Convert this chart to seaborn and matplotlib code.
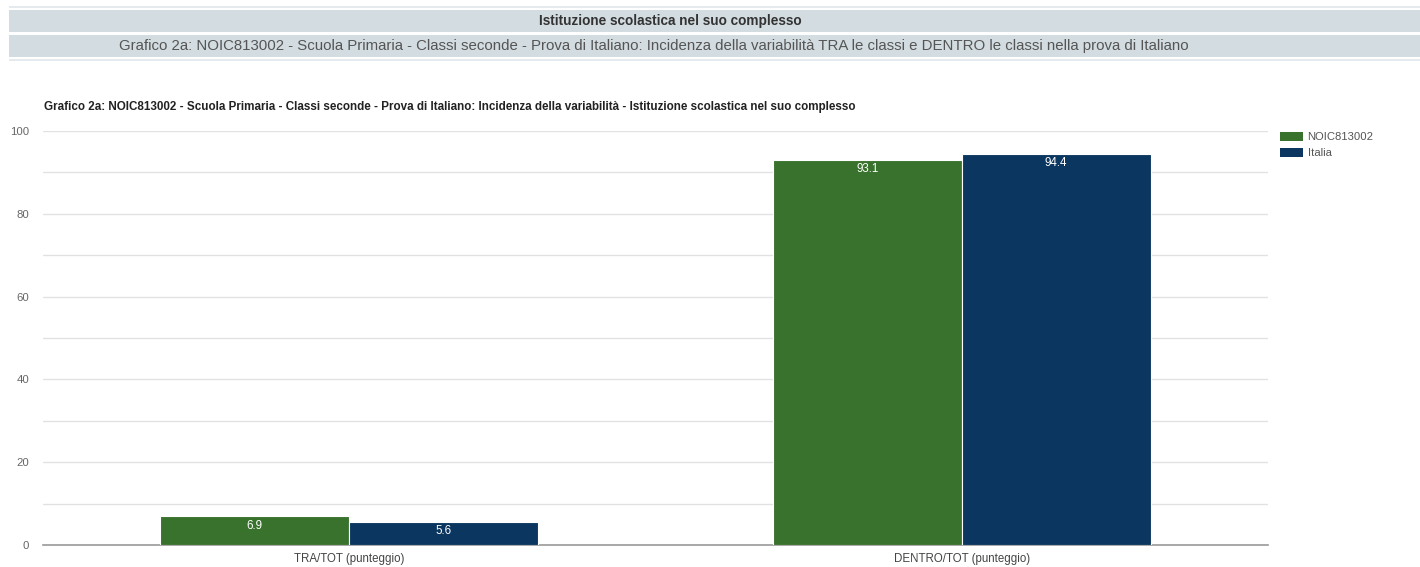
import matplotlib
matplotlib.use("Agg")
import matplotlib.pyplot as plt
import seaborn as sns
import pandas as pd
from matplotlib.patches import Rectangle, Patch

categories = ["TRA/TOT (punteggio)", "DENTRO/TOT (punteggio)"]
series_names = ["NOIC813002", "Italia"]
school_values = [6.9, 93.1]
italy_values = [5.6, 94.4]
value_labels_school = ["6.9", "93.1"]
value_labels_italy = ["5.6", "94.4"]
y_ticks = [0, 20, 40, 60, 80, 100]

header1 = "Istituzione scolastica nel suo complesso"
header2 = ("Grafico 2a: NOIC813002 - Scuola Primaria - Classi seconde - Prova di Italiano: "
           "Incidenza della variabilità TRA le classi e DENTRO le classi nella prova di Italiano")
chart_title = ("Grafico 2a: NOIC813002 - Scuola Primaria - Classi seconde - Prova di Italiano: "
               "Incidenza della variabilità - Istituzione scolastica nel suo complesso")

colors = ["#38722c", "#0b3660"]

df = pd.DataFrame({
    "cat": categories * 2,
    "serie": [series_names[0]] * 2 + [series_names[1]] * 2,
    "val": school_values + italy_values,
})

sns.set_style("white")
plt.rcParams['font.family'] = ['Liberation Sans', 'DejaVu Sans']

W, H = 1420, 567
fig = plt.figure(figsize=(W / 100, H / 100), dpi=100)

# header bands
def band(y0, y1, color):
    fig.patches.append(Rectangle((9 / W, 1 - y1 / H), 1 - 9 / W, (y1 - y0) / H,
                                 transform=fig.transFigure, facecolor=color,
                                 edgecolor="none", zorder=0))

band(6, 8, "#e4eaed")
band(10, 32, "#d3dde1")
band(35, 57, "#d3dde1")
band(59, 61, "#e4eaed")
fig.text(670 / W, 1 - 21 / H, header1, ha="center", va="center", fontsize=9.8,
         fontweight="bold", color="#333333")
fig.text(654 / W, 1 - 46 / H, header2, ha="center", va="center", fontsize=10.8,
         color="#555555")

ax = fig.add_axes([43 / W, 1 - 545 / H, (1268 - 43) / W, (545 - 131) / H])
sns.barplot(data=df, x="cat", y="val", hue="serie", palette=colors, ax=ax,
            width=0.617, saturation=1, edgecolor="white", linewidth=0.8,
            legend=False, zorder=3)

ax.set_ylim(0, 100)
ax.set_yticks(y_ticks)
ax.set_yticks(range(0, 101, 10), minor=True)
ax.grid(axis="y", which="both", color="#e2e2e2", linewidth=1, zorder=0)
ax.set_axisbelow(True)
for s in ["top", "right", "left"]:
    ax.spines[s].set_visible(False)
ax.spines["bottom"].set_color("#999999")
ax.spines["bottom"].set_linewidth(1.2)
ax.tick_params(axis="y", which="both", length=0, labelsize=8.2, labelcolor="#666666", pad=10)
ax.tick_params(axis="x", length=0, labelsize=8.3, labelcolor="#444444", pad=6)
ax.set_xlabel("")
ax.set_ylabel("")

# value labels
for container, labs in zip(ax.containers, [value_labels_school, value_labels_italy]):
    ax.bar_label(container, labels=labs, label_type="edge", padding=-11,
                 color="white", fontsize=8.4)

fig.text(44 / W, 1 - 107 / H, chart_title, ha="left", va="center", fontsize=8.4,
         fontweight="bold", color="#222222")

handles = [Patch(facecolor=c, edgecolor="none") for c in colors]
fig.legend(handles, series_names, loc="upper left", bbox_to_anchor=(1275 / W, 1 - 127 / H),
           frameon=False, fontsize=8.1, handlelength=2.1, handleheight=0.9,
           handletextpad=0.4, labelspacing=0.5, labelcolor="#555555", borderaxespad=0)

fig.savefig("out.png", dpi=100)
